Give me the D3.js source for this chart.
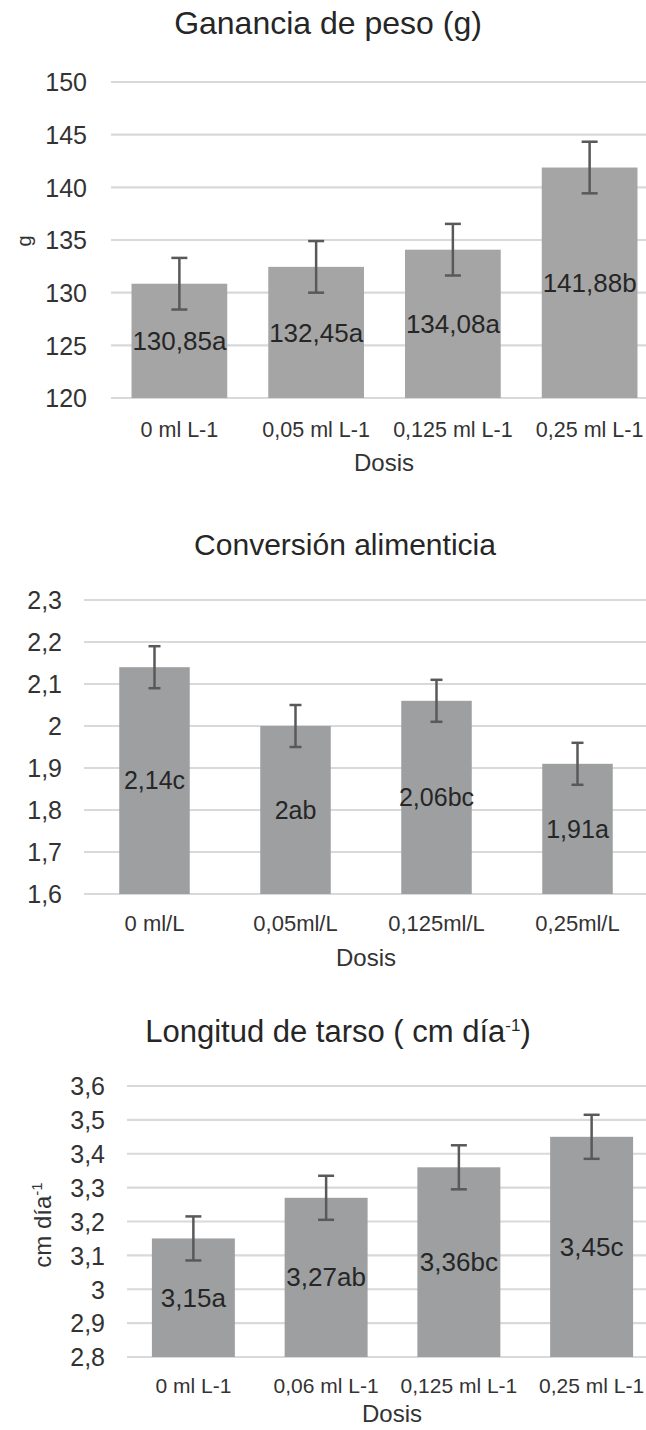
<!DOCTYPE html>
<body style="margin:0;background:#fff">
<svg width="646" height="1430" font-family="'Liberation Sans', Arial, sans-serif"></svg>
</body>
<script src="https://d3js.org/d3.v7.min.js"></script>
<script>

// --- data ---
var pesoDosis = ["0 ml L-1", "0,05 ml L-1", "0,125 ml L-1", "0,25 ml L-1"];
var pesoValues = [130.85, 132.45, 134.08, 141.88];
var pesoLetters = ["a", "a", "a", "b"];
var pesoError = [2.45, 2.45, 2.45, 2.45];
var pesoTicks = [120, 125, 130, 135, 140, 145, 150];

var convDosis = ["0 ml/L", "0,05ml/L", "0,125ml/L", "0,25ml/L"];
var convValues = [2.14, 2, 2.06, 1.91];
var convLetters = ["c", "ab", "bc", "a"];
var convError = [0.05, 0.05, 0.05, 0.05];
var convTicks = [1.6, 1.7, 1.8, 1.9, 2, 2.1, 2.2, 2.3];

var tarsoDosis = ["0 ml L-1", "0,06 ml L-1", "0,125 ml L-1", "0,25 ml L-1"];
var tarsoValues = [3.15, 3.27, 3.36, 3.45];
var tarsoLetters = ["a", "ab", "bc", "c"];
var tarsoError = [0.065, 0.065, 0.065, 0.065];
var tarsoTicks = [2.8, 2.9, 3, 3.1, 3.2, 3.3, 3.4, 3.5, 3.6];

var svg = d3.select("svg"),
    width = +svg.attr("width");

function comma(v) {
  return String(+v.toFixed(2)).replace(".", ",");
}

function drawChart(c) {
  var g = svg.append("g");

  var x = d3.scaleBand()
      .domain(c.dosis)
      .range([c.left, c.right])
      .paddingInner(c.pad)
      .paddingOuter(c.pad / 2);

  var y = d3.scaleLinear()
      .domain([c.ticks[0], c.ticks[c.ticks.length - 1]])
      .range([c.bottom, c.top]);

  // gridlines
  g.selectAll(".grid")
    .data(c.ticks)
    .enter().append("line")
      .attr("x1", c.left)
      .attr("x2", width)
      .attr("y1", function(d) { return y(d); })
      .attr("y2", function(d) { return y(d); })
      .attr("stroke", "#d9d9d9")
      .attr("stroke-width", 2.2);

  // y axis labels
  var yAxis = d3.axisLeft(y).tickValues(c.ticks).tickSize(0).tickPadding(0)
      .tickFormat(function(d) { return comma(d); });
  var ya = g.append("g")
      .attr("transform", "translate(" + c.tickRight + ",0)")
      .call(yAxis);
  ya.select(".domain").remove();
  ya.selectAll("text")
      .attr("font-size", 25)
      .attr("font-family", "'Liberation Sans', Arial, sans-serif")
      .attr("fill", "#333")
      .attr("dy", "0.35em");

  var rows = c.values.map(function(v, i) {
    return {dosis: c.dosis[i], value: v, letter: c.letters[i], err: c.error[i]};
  });

  // bars
  g.selectAll(".bar")
    .data(rows)
    .enter().append("rect")
      .attr("x", function(d) { return x(d.dosis); })
      .attr("width", x.bandwidth())
      .attr("y", function(d) { return y(d.value); })
      .attr("height", function(d) { return c.bottom - y(d.value); })
      .attr("fill", c.color);

  // error bars
  var eb = g.selectAll(".err")
    .data(rows)
    .enter().append("g")
      .attr("stroke", "#595959")
      .attr("stroke-width", 2.5);
  eb.append("line")
      .attr("x1", function(d) { return x(d.dosis) + x.bandwidth() / 2; })
      .attr("x2", function(d) { return x(d.dosis) + x.bandwidth() / 2; })
      .attr("y1", function(d) { return y(d.value + d.err); })
      .attr("y2", function(d) { return y(d.value - d.err); });
  [1, -1].forEach(function(s) {
    eb.append("line")
        .attr("x1", function(d) { return x(d.dosis) + x.bandwidth() / 2 - c.cap; })
        .attr("x2", function(d) { return x(d.dosis) + x.bandwidth() / 2 + c.cap; })
        .attr("y1", function(d) { return y(d.value + s * d.err); })
        .attr("y2", function(d) { return y(d.value + s * d.err); });
  });

  // value labels, centred in the bar
  g.selectAll(".lbl")
    .data(rows)
    .enter().append("text")
      .attr("x", function(d) { return x(d.dosis) + x.bandwidth() / 2; })
      .attr("y", function(d) { return (y(d.value) + c.bottom) / 2; })
      .attr("dy", "0.35em")
      .attr("text-anchor", "middle")
      .attr("font-size", c.labelSize)
      .attr("fill", "#262626")
      .text(function(d) { return comma(d.value) + d.letter; });

  // x axis labels
  var xAxis = d3.axisBottom(x).tickSize(0).tickPadding(0);
  var xa = g.append("g")
      .attr("transform", "translate(0," + c.xLabelY + ")")
      .call(xAxis);
  xa.select(".domain").remove();
  xa.selectAll("text")
      .attr("font-size", c.xSize)
      .attr("font-family", "'Liberation Sans', Arial, sans-serif")
      .attr("fill", "#333")
      .attr("dy", "0.35em");

  g.append("text")
      .attr("x", c.dosisX)
      .attr("y", c.dosisY)
      .attr("dy", "0.35em")
      .attr("text-anchor", "middle")
      .attr("font-size", 24)
      .attr("fill", "#333")
      .text("Dosis");

  var t = g.append("text")
      .attr("x", c.titleX)
      .attr("y", c.titleY)
      .attr("text-anchor", "middle")
      .attr("font-size", c.titleSize)
      .attr("fill", "#262626")
      .text(c.title);
  if (c.titleSup) {
    t.append("tspan").attr("dy", -11).attr("font-size", 17).text(c.titleSup);
    t.append("tspan").attr("dy", 11).text(")");
  }

  if (c.yLabel) {
    var yl = g.append("text")
        .attr("transform", "translate(" + c.yLabelX + "," + c.yLabelY + ") rotate(-90)")
        .attr("dy", "0.35em")
        .attr("text-anchor", "middle")
        .attr("font-size", c.yLabelSize)
        .attr("fill", "#333")
        .text(c.yLabel);
    if (c.yLabelSup) {
      yl.append("tspan").attr("dy", -9).attr("font-size", 15).text(c.yLabelSup);
    }
  }
}

drawChart({
  dosis: pesoDosis, values: pesoValues, letters: pesoLetters, error: pesoError, ticks: pesoTicks,
  left: 111, right: 658, pad: 0.3, top: 82, bottom: 398, tickRight: 87,
  color: "#a5a5a5", cap: 8, labelSize: 26, xSize: 21.5, xLabelY: 429,
  dosisX: 384, dosisY: 463, title: "Ganancia de peso (g)", titleSize: 32, titleX: 328, titleY: 34,
  yLabel: "g", yLabelX: 24, yLabelY: 241, yLabelSize: 20
});

drawChart({
  dosis: convDosis, values: convValues, letters: convLetters, error: convError, ticks: convTicks,
  left: 84, right: 648, pad: 0.5, top: 600, bottom: 894, tickRight: 62,
  color: "#9d9fa1", cap: 6, labelSize: 25, xSize: 22, xLabelY: 923,
  dosisX: 366, dosisY: 958, title: "Conversión alimenticia", titleSize: 30, titleX: 345, titleY: 555
});

drawChart({
  dosis: tarsoDosis, values: tarsoValues, letters: tarsoLetters, error: tarsoError, ticks: tarsoTicks,
  left: 127, right: 658, pad: 0.375, top: 1086, bottom: 1357, tickRight: 105,
  color: "#9d9fa1", cap: 8, labelSize: 26, xSize: 21, xLabelY: 1386,
  dosisX: 392, dosisY: 1414, title: "Longitud de tarso ( cm día", titleSup: "-1",
  titleSize: 31, titleX: 338, titleY: 1042,
  yLabel: "cm día", yLabelSup: "-1", yLabelX: 43, yLabelY: 1225, yLabelSize: 24
});

</script>
